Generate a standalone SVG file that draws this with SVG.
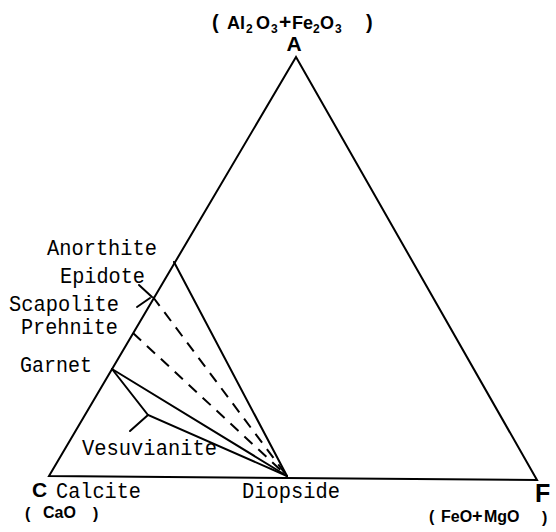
<svg xmlns="http://www.w3.org/2000/svg" width="556" height="532" viewBox="0 0 556 532">
<style>
.ln{stroke:#000;stroke-width:2;fill:none;stroke-linecap:round}
.ds{stroke:#000;stroke-width:2;fill:none;stroke-dasharray:11 8}
.mono{font-family:"Liberation Mono","DejaVu Sans Mono",monospace;font-size:22px;fill:#000}
.sans{font-family:"Liberation Sans",Arial,sans-serif;font-weight:bold;fill:#000}
.sub{font-size:12px}
</style>
<rect width="556" height="532" fill="#fff"/>
<g id="connectors">
<polygon class="ln" points="296,57 49,476 537,480" stroke-linejoin="miter"/>
<line class="ln" x1="174" y1="262" x2="287" y2="476"/>
<line class="ds" x1="153" y1="297" x2="287" y2="476"/>
<line class="ds" x1="133" y1="333" x2="287" y2="476"/>
<line class="ln" x1="112" y1="369" x2="287" y2="476"/>
<polyline class="ln" points="112,369 148,415 287,476"/>
<line class="ln" x1="148" y1="415" x2="130" y2="431"/>
<line class="ln" x1="139" y1="285" x2="152" y2="297"/>
<line class="ln" x1="137" y1="307" x2="150" y2="298"/>
</g>
<g id="A">
<text class="sans" font-size="18"><tspan x="212" y="29" font-size="20">(</tspan><tspan x="227" y="29">Al</tspan><tspan class="sub" x="246" y="33">2</tspan><tspan x="256" y="29">O</tspan><tspan class="sub" x="271" y="33">3</tspan><tspan x="279" y="29" font-size="21">+</tspan><tspan x="292" y="29">Fe</tspan><tspan class="sub" x="313" y="33">2</tspan><tspan x="320" y="29">O</tspan><tspan class="sub" x="335" y="33">3</tspan><tspan x="366" y="29" font-size="20">)</tspan></text>
<text class="sans" x="294" y="51" font-size="21" text-anchor="middle">A</text>
</g>
<g id="C">
<text class="sans" x="32" y="497" font-size="21">C</text>
<text class="sans" font-size="16"><tspan x="25" y="519">(</tspan><tspan x="43" y="518">CaO</tspan><tspan x="93" y="519">)</tspan></text>
</g>
<g id="F">
<text class="sans" x="535" y="502" font-size="25">F</text>
<text class="sans" font-size="16"><tspan x="429" y="522">(</tspan><tspan x="441" y="522">FeO</tspan><tspan x="472" y="522" font-size="18">+</tspan><tspan x="484" y="522">MgO</tspan><tspan x="542" y="523">)</tspan></text>
</g>
<g id="Anorthite"><text class="mono" x="47" y="255" textLength="110" lengthAdjust="spacingAndGlyphs">Anorthite</text></g>
<g id="Epidote"><text class="mono" x="60" y="283" textLength="85" lengthAdjust="spacingAndGlyphs">Epidote</text></g>
<g id="Scapolite"><text class="mono" x="9" y="311" textLength="110" lengthAdjust="spacingAndGlyphs">Scapolite</text></g>
<g id="Prehnite"><text class="mono" x="21" y="334" textLength="97" lengthAdjust="spacingAndGlyphs">Prehnite</text></g>
<g id="Garnet"><text class="mono" x="20" y="372" textLength="72" lengthAdjust="spacingAndGlyphs">Garnet</text></g>
<g id="Vesuvianite"><text class="mono" x="82" y="455" textLength="135" lengthAdjust="spacingAndGlyphs">Vesuvianite</text></g>
<g id="Calcite"><text class="mono" x="56" y="498" textLength="85" lengthAdjust="spacingAndGlyphs">Calcite</text></g>
<g id="Diopside"><text class="mono" x="242" y="498" textLength="98" lengthAdjust="spacingAndGlyphs">Diopside</text></g>
</svg>
